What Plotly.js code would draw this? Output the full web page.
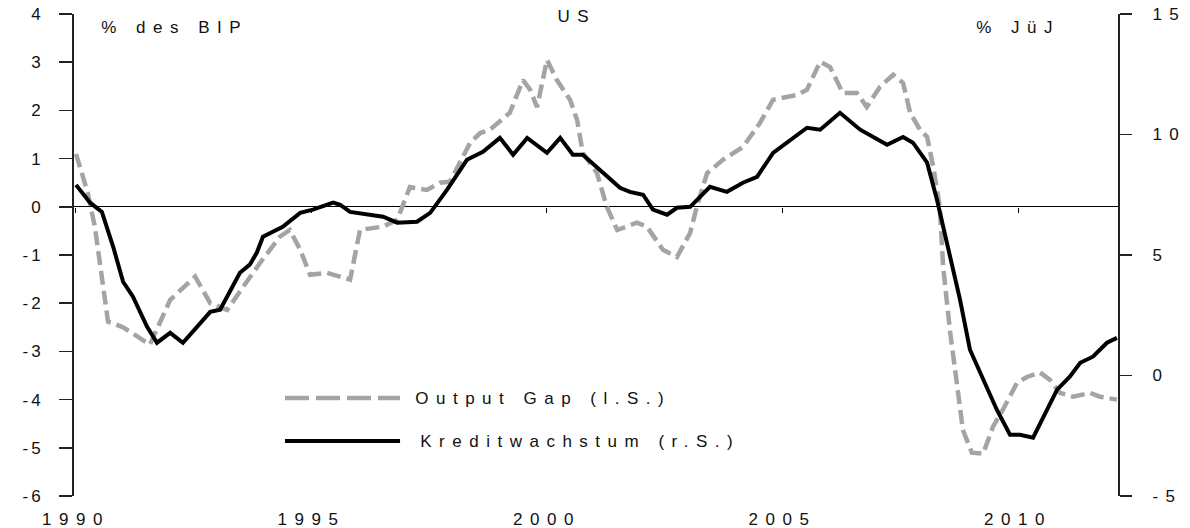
<!DOCTYPE html>
<html>
<head>
<meta charset="utf-8">
<script src="https://cdn.plot.ly/plotly-3.0.1.min.js"></script>
<style>
  html, body { margin: 0; padding: 0; background: #fff; }
  #chart { width: 1190px; height: 528px; }
  #chart g.xtick text, #chart g.y2tick text, #chart text.annotation-text { letter-spacing: 7.5px; }
  #chart g.ytick text { letter-spacing: 3px; }
</style>
</head>
<body>
<div id="chart"></div>
<script>
// Output Gap (left scale, % des BIP)
const gapYears = [1990.0,1990.25,1990.4,1990.57,1990.68,1991.0,1991.57,1992.0,1992.53,1992.85,1993.21,1993.55,1993.91,1994.33,1994.54,1994.76,1994.97,1995.33,1995.82,1996.03,1996.52,1996.82,1997.09,1997.45,1997.73,1997.94,1998.37,1998.58,1998.79,1999.21,1999.49,1999.64,1999.79,2000.0,2000.21,2000.49,2000.64,2000.76,2001.06,2001.27,2001.49,2001.91,2002.12,2002.46,2002.76,2003.04,2003.18,2003.4,2003.74,2004.16,2004.52,2004.8,2005.31,2005.52,2005.8,2006.01,2006.28,2006.58,2006.79,2007.07,2007.35,2007.56,2007.71,2007.92,2008.07,2008.2,2008.34,2008.41,2008.56,2008.7,2008.83,2009.02,2009.26,2009.47,2009.68,2009.98,2010.19,2010.47,2010.68,2010.89,2011.17,2011.53,2011.74,2012.1];
const gapValues = [1.1,0.29,-0.41,-1.58,-2.38,-2.5,-2.86,-1.93,-1.45,-2.0,-2.14,-1.66,-1.16,-0.62,-0.48,-0.89,-1.41,-1.37,-1.51,-0.48,-0.41,-0.27,0.41,0.35,0.5,0.52,1.33,1.53,1.6,1.95,2.63,2.43,2.07,3.05,2.63,2.22,1.8,1.12,0.7,0,-0.48,-0.33,-0.41,-0.89,-1.04,-0.54,0,0.7,0.98,1.24,1.74,2.22,2.32,2.43,3.01,2.9,2.36,2.36,2.07,2.49,2.74,2.57,1.95,1.6,1.45,0.83,0,-1.24,-2.61,-3.65,-4.63,-5.1,-5.12,-4.56,-4.21,-3.65,-3.53,-3.44,-3.59,-3.86,-3.94,-3.86,-3.94,-4.0];

// Kreditwachstum (right scale, % JüJ)
const creditYears = [1990.0,1990.3,1990.55,1990.79,1991.0,1991.21,1991.51,1991.72,1992.0,1992.27,1992.57,1992.85,1993.06,1993.48,1993.69,1993.84,1993.97,1994.39,1994.76,1995.03,1995.46,1995.61,1995.82,1996.24,1996.52,1996.82,1997.24,1997.52,1997.88,1998.3,1998.64,1999.0,1999.28,1999.58,2000.0,2000.28,2000.55,2000.76,2001.19,2001.55,2001.76,2002.04,2002.25,2002.55,2002.76,2003.04,2003.46,2003.82,2004.16,2004.46,2004.8,2005.1,2005.52,2005.8,2006.22,2006.65,2007.22,2007.56,2007.77,2008.07,2008.28,2008.49,2008.77,2008.98,2009.26,2009.55,2009.83,2010.04,2010.32,2010.62,2010.83,2011.1,2011.32,2011.59,2011.89,2012.1];
const creditValues = [7.91,7.17,6.79,5.34,3.89,3.27,2.02,1.36,1.77,1.36,2.02,2.64,2.73,4.26,4.6,5.1,5.76,6.17,6.75,6.88,7.17,7.08,6.79,6.67,6.59,6.34,6.38,6.75,7.71,8.95,9.28,9.86,9.16,9.86,9.24,9.86,9.16,9.16,8.41,7.79,7.62,7.5,6.88,6.67,6.96,7.0,7.83,7.62,8.0,8.24,9.24,9.66,10.28,10.2,10.9,10.2,9.57,9.9,9.66,8.83,7.29,5.51,3.14,1.07,-0.18,-1.42,-2.46,-2.46,-2.58,-1.42,-0.59,-0.05,0.53,0.78,1.36,1.56];

// Tick labels
const xTickVals = [1990, 1995, 2000, 2005, 2010];
const xTickText = ['1990', '1995', '2000', '2005', '2010'];
const leftTickVals = [-6, -5, -4, -3, -2, -1, 0, 1, 2, 3, 4];
const leftTickText = ['-6', '-5', '-4', '-3', '-2', '-1', '0', '1', '2', '3', '4'];
const rightTickVals = [-5, 0, 5, 10, 15];
const rightTickText = ['-5', '0', '5', '10', '15'];

// Texts
const chartTitle = 'US';
const leftUnit = '% des BIP';
const rightUnit = '% JüJ';
const gapName = 'Output Gap (l.S.)';
const creditName = 'Kreditwachstum (r.S.)';

const GRAY = '#a4a4a4';
const BLACK = '#000000';
const TEXT = '#111111';
const FONT = 'Liberation Sans, Arial, sans-serif';
const FS = 17;
const xRange = [1989.958, 2012.123];

const traces = [
  {
    x: gapYears, y: gapValues, name: gapName, type: 'scatter', mode: 'lines',
    xaxis: 'x', yaxis: 'y',
    line: { color: GRAY, width: 4.5, dash: '14px,6px' },
    showlegend: false, hoverinfo: 'skip'
  },
  {
    x: creditYears, y: creditValues, name: creditName, type: 'scatter', mode: 'lines',
    xaxis: 'x2', yaxis: 'y2',
    line: { color: BLACK, width: 4 },
    showlegend: false, hoverinfo: 'skip'
  }
];

const layout = {
  width: 1190, height: 528,
  margin: { l: 74, r: 72, t: 14, b: 32, pad: 0 },
  paper_bgcolor: '#ffffff', plot_bgcolor: '#ffffff',
  font: { family: FONT, size: FS, color: TEXT },
  showlegend: false,
  xaxis: {
    range: xRange, anchor: 'y', side: 'bottom',
    tickvals: xTickVals, ticktext: xTickText, ticks: '',
    ticklabelstandoff: 11,
    showline: false, showgrid: false, zeroline: false,
    tickfont: { family: FONT, size: FS, color: TEXT }
  },
  xaxis2: {
    range: xRange, overlaying: 'x', anchor: 'free', position: 0.6, side: 'bottom',
    tickvals: xTickVals, ticks: 'outside', ticklen: 5, tickwidth: 1, tickcolor: BLACK,
    showticklabels: false, showline: false, showgrid: false, zeroline: false
  },
  yaxis: {
    range: [-6, 4], tickvals: leftTickVals, ticktext: leftTickText,
    anchor: 'x', side: 'left',
    ticks: 'outside', ticklen: 13, tickwidth: 1.5, tickcolor: '#222',
    ticklabelstandoff: 12,
    showline: true, linecolor: '#222', linewidth: 2,
    showgrid: false, zeroline: true, zerolinecolor: BLACK, zerolinewidth: 1,
    tickfont: { family: FONT, size: FS, color: TEXT }
  },
  yaxis2: {
    range: [-5, 15], tickvals: rightTickVals, ticktext: rightTickText,
    overlaying: 'y', side: 'right', anchor: 'x',
    ticks: 'outside', ticklen: 12, tickwidth: 1.5, tickcolor: '#222',
    ticklabelstandoff: 17,
    showline: true, linecolor: '#222', linewidth: 2,
    showgrid: false, zeroline: false,
    tickfont: { family: FONT, size: FS, color: TEXT }
  },
  shapes: [
    { type: 'line', xref: 'paper', yref: 'paper', x0: 0.2021, x1: 0.3123, y0: 0.2033, y1: 0.2033,
      line: { color: GRAY, width: 4.5, dash: '24px,7px' } },
    { type: 'line', xref: 'paper', yref: 'paper', x0: 0.2021, x1: 0.3123, y0: 0.1141, y1: 0.1141,
      line: { color: BLACK, width: 4 } }
  ],
  annotations: [
    { text: chartTitle, xref: 'paper', yref: 'paper', x: 0.4818, y: 0.994, xanchor: 'center', yanchor: 'middle', showarrow: false, font: { size: FS } },
    { text: leftUnit, xref: 'paper', yref: 'paper', x: 0.0967, y: 0.971, xanchor: 'center', yanchor: 'middle', showarrow: false, font: { size: FS } },
    { text: rightUnit, xref: 'paper', yref: 'paper', x: 0.9042, y: 0.971, xanchor: 'center', yanchor: 'middle', showarrow: false, font: { size: FS } },
    { text: gapName, xref: 'paper', yref: 'paper', x: 0.4497, y: 0.2033, xanchor: 'center', yanchor: 'middle', showarrow: false, font: { size: FS } },
    { text: creditName, xref: 'paper', yref: 'paper', x: 0.4856, y: 0.1141, xanchor: 'center', yanchor: 'middle', showarrow: false, font: { size: FS } }
  ]
};

Plotly.newPlot('chart', traces, layout, { staticPlot: true, displayModeBar: false });
</script>
</body>
</html>
